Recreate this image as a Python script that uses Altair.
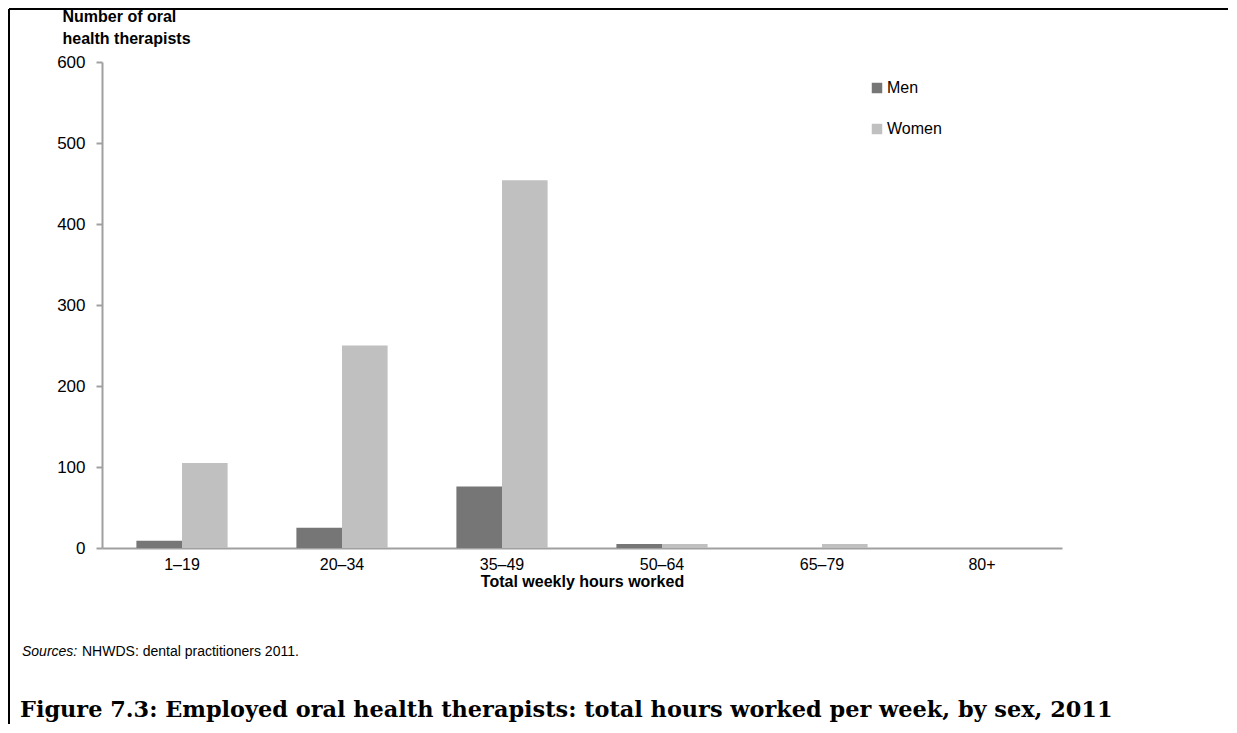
import altair as alt
import pandas as pd

categories = ["1–19", "20–34", "35–49", "50–64", "65–79", "80+"]
men = [9, 25, 76, 5, 0, 0]
women = [105, 250, 454, 5, 5, 0]
series = ["Men", "Women"]
colors = ["#767676", "#C0C0C0"]
y_ticks = [0, 100, 200, 300, 400, 500, 600]

rows = []
for i, c in enumerate(categories):
    rows.append({"hours": c, "sex": "Men", "count": men[i]})
    rows.append({"hours": c, "sex": "Women", "count": women[i]})
df = pd.DataFrame(rows)
one = pd.DataFrame({"k": [0]})

FONT = "Liberation Sans"
W, H = 960, 486

bars = alt.Chart(df).mark_bar().encode(
    x=alt.X("hours:N", sort=categories,
            scale=alt.Scale(paddingInner=0.43, paddingOuter=0.215),
            axis=alt.Axis(title="Total weekly hours worked", labelAngle=0,
                          labelFontSize=16, labelFont=FONT, labelColor="#000000",
                          labelPadding=8, ticks=False,
                          domainColor="#A0A0A0", domainWidth=2,
                          titleFont=FONT, titleFontSize=16, titleFontWeight="bold",
                          titleColor="#000000", titlePadding=1)),
    xOffset=alt.XOffset("sex:N", sort=series, scale=alt.Scale(paddingInner=0, paddingOuter=0)),
    y=alt.Y("count:Q", scale=alt.Scale(domain=[0, 600], nice=False),
            axis=alt.Axis(values=y_ticks, grid=False, title=["Number of oral", "health therapists"],
                          titleAngle=0, titleAlign="left", titleBaseline="bottom",
                          titleX=-40, titleY=-38, titleLineHeight=22,
                          titleFont=FONT, titleFontSize=16, titleFontWeight="bold",
                          titleColor="#000000",
                          labelFontSize=17, labelFont=FONT, labelColor="#000000",
                          labelPadding=11, tickColor="#A0A0A0", tickSize=6, tickWidth=2,
                          domainColor="#A0A0A0", domainWidth=2)),
    color=alt.Color("sex:N", sort=series,
                    scale=alt.Scale(domain=series, range=colors),
                    legend=alt.Legend(title=None, orient="none", legendX=767, legendY=18,
                                      symbolType="square", symbolSize=110,
                                      symbolStrokeWidth=0, labelFont=FONT,
                                      labelFontSize=16, labelColor="#000000",
                                      rowPadding=25, labelOffset=2)),
)

border_top = alt.Chart(one).mark_rule(color="#000000", strokeWidth=2).encode(
    x=alt.value(-93), x2=alt.value(1126), y=alt.value(-53))
border_left = alt.Chart(one).mark_rule(color="#000000", strokeWidth=2).encode(
    x=alt.value(-93), y=alt.value(-53), y2=alt.value(662))

src_label = alt.Chart(one).mark_text(text="Sources:", font=FONT, fontSize=14, fontStyle="italic",
                                     align="left", baseline="middle", color="#000000").encode(
    x=alt.value(-80), y=alt.value(590))
src_text = alt.Chart(one).mark_text(text="NHWDS: dental practitioners 2011.", font=FONT, fontSize=14,
                                    align="left", baseline="middle", color="#000000").encode(
    x=alt.value(-20), y=alt.value(590))
caption = alt.Chart(one).mark_text(
    text="Figure 7.3: Employed oral health therapists: total hours worked per week, by sex, 2011",
    font="DejaVu Serif", fontSize=22.4, fontWeight="bold",
    align="left", baseline="middle", color="#000000").encode(
    x=alt.value(-82), y=alt.value(648))

chart = alt.layer(bars, border_top, border_left, src_label, src_text, caption).properties(
    width=W, height=H, padding=0
).configure_view(stroke=None)

chart.save("out.html", embed_options={"renderer": "svg", "actions": False})
